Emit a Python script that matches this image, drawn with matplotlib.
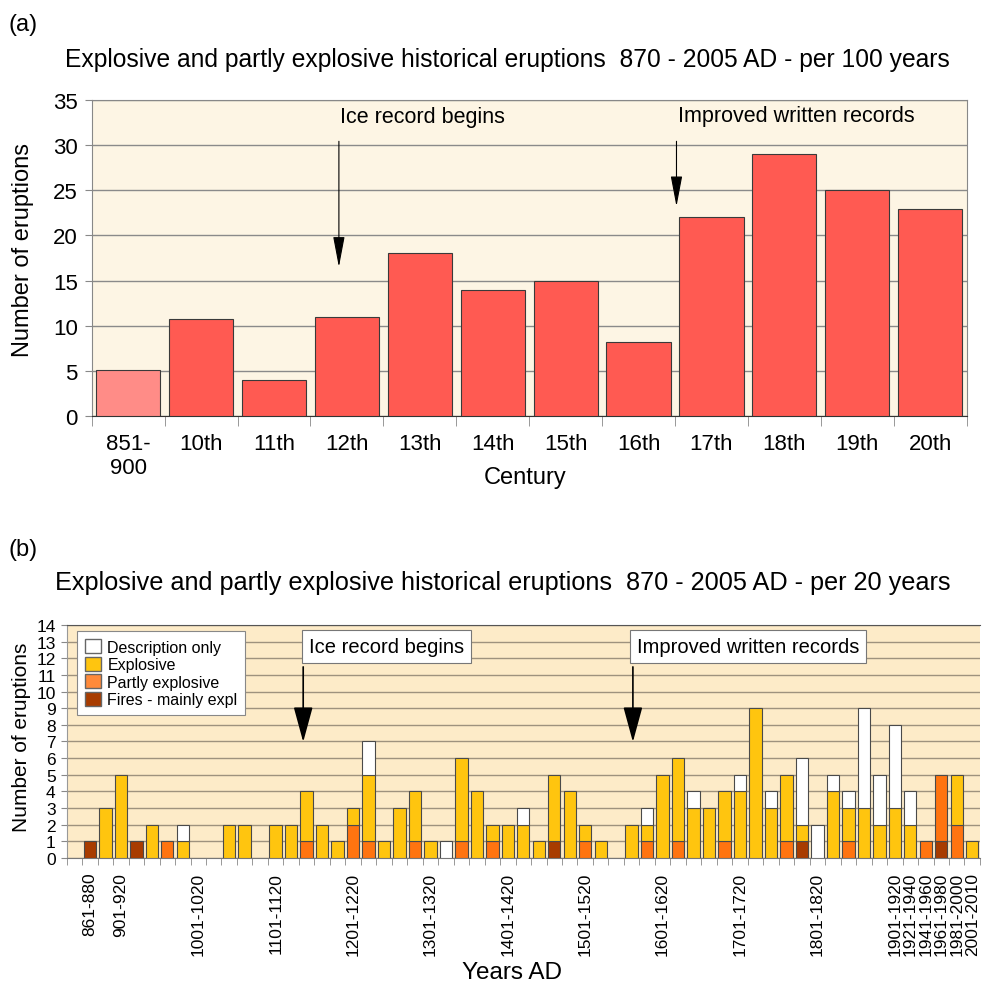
import numpy as np
import matplotlib
matplotlib.use('Agg')
from matplotlib import pyplot as plt
from matplotlib.patches import Patch

plt.rcParams['font.family'] = ['Liberation Sans', 'DejaVu Sans']

# ---- panel (a): per century ----
centuries = ['851-\n900', '10th', '11th', '12th', '13th', '14th', '15th',
             '16th', '17th', '18th', '19th', '20th']
per_century = [5.1, 10.8, 4, 11, 18.1, 14, 15, 8.2, 22, 29, 25, 22.9]

# ---- panel (b): per 20 years ----
bin_starts = list(range(861, 2001, 20))
bin_labels = ['%d-%d' % (y, y + 19) for y in bin_starts] + ['2001-2010']
shown_labels = ['861-880', '901-920', '1001-1020', '1101-1120', '1201-1220',
                '1301-1320', '1401-1420', '1501-1520', '1601-1620', '1701-1720',
                '1801-1820', '1901-1920', '1921-1940', '1941-1960', '1961-1980',
                '1981-2000', '2001-2010']

fires = [1, 0, 0, 1, 0, 0, 0, 0, 0, 0,
         0, 0, 0, 0, 0, 0, 0, 0, 0, 0,
         0, 0, 0, 0, 0, 0, 0, 0, 0, 0,
         1, 0, 0, 0, 0, 0, 0, 0, 0, 0,
         0, 0, 0, 0, 0, 0, 1, 0, 0, 0,
         0, 0, 0, 0, 0, 1, 0, 0]
partly = [0, 0, 0, 0, 0, 1, 0, 0, 0, 0,
          0, 0, 0, 0, 1, 0, 0, 2, 1, 0,
          0, 1, 0, 0, 1, 0, 1, 0, 0, 0,
          0, 0, 1, 0, 0, 0, 1, 0, 1, 0,
          0, 1, 0, 0, 0, 1, 0, 0, 0, 1,
          0, 0, 0, 0, 1, 4, 2, 0]
explosive = [0, 3, 5, 0, 2, 0, 1, 0, 0, 2,
             2, 0, 2, 2, 3, 2, 1, 1, 4, 1,
             3, 3, 1, 0, 5, 4, 1, 2, 2, 1,
             4, 4, 1, 1, 0, 2, 1, 5, 5, 3,
             3, 3, 4, 9, 3, 4, 1, 0, 4, 2,
             3, 2, 3, 2, 0, 0, 3, 1]
description = [0, 0, 0, 0, 0, 0, 1, 0, 0, 0,
               0, 0, 0, 0, 0, 0, 0, 0, 2, 0,
               0, 0, 0, 1, 0, 0, 0, 0, 1, 0,
               0, 0, 0, 0, 0, 0, 1, 0, 0, 1,
               0, 0, 1, 0, 1, 0, 4, 2, 1, 1,
               6, 3, 5, 2, 0, 0, 0, 0]

C_FIRE = '#A83C00'
C_PART = '#FF7410'
C_EXPL = '#FFC50F'
C_DESC = 'white'

fig = plt.figure(figsize=(9.82, 9.87), dpi=100)

# ================= (a) =================
ax1 = fig.add_axes([0.0934, 0.5772, 0.891, 0.3208])
ax1.set_facecolor('#FDF5E4')
xa = np.arange(len(centuries))
cols = ['#FF8C87'] + ['#FF5A52'] * (len(centuries) - 1)
ax1.bar(xa, per_century, 0.88, color=cols, edgecolor='#3a3a3a', lw=0.8, zorder=3)
ax1.set_xlim(-0.5, len(centuries) - 0.5)
ax1.set_ylim(0, 35)
ax1.set_yticks(range(0, 36, 5))
ax1.yaxis.grid(True, color='#8a8a8a', lw=1)
ax1.set_axisbelow(True)
ax1.set_xticks(xa)
ax1.set_xticklabels(centuries, fontsize=16)
ax1.set_xticks(np.arange(-0.5, len(centuries)), minor=True)
ax1.tick_params(axis='x', which='major', length=0, pad=12)
ax1.tick_params(axis='x', which='minor', length=7, color='#888888')
ax1.tick_params(axis='y', length=5, color='#888888', labelsize=16, pad=5)
for s in ['left', 'top', 'right']:
    ax1.spines[s].set_color('#888888')
ax1.spines['bottom'].set_color('#333333')

arr_a = dict(arrowstyle='-|>,head_length=1.9,head_width=0.36', mutation_scale=10,
             lw=0.8, color='black', shrinkA=0, shrinkB=0)
ax1.annotate('', xy=(2.89, 16.5), xytext=(2.89, 30.4), arrowprops=arr_a)
ax1.annotate('', xy=(7.52, 23.2), xytext=(7.52, 30.4), arrowprops=arr_a)
ax1.text(2.91, 33.1, 'Ice record begins', fontsize=15.5, va='center', ha='left')
ax1.text(7.54, 33.2, 'Improved written records', fontsize=15.5, va='center', ha='left')

fig.text(8 / 982, 1 - 25 / 987, '(a)', fontsize=17, va='center', ha='left')
fig.text(507 / 982, 1 - 60 / 987,
         'Explosive and partly explosive historical eruptions  870 - 2005 AD - per 100 years',
         fontsize=17.7, va='center', ha='center')
fig.text(23 / 982, 1 - 250 / 987, 'Number of eruptions', fontsize=17,
         rotation=90, va='center', ha='center')
fig.text(525 / 982, 1 - 478 / 987, 'Century', fontsize=17, va='center', ha='center')

# ================= (b) =================
ax2 = fig.add_axes([0.0679, 0.1297, 0.930, 0.2361])
ax2.set_facecolor('#FDEBC8')
xb = np.arange(1, len(bin_labels) + 1)
bottom = np.zeros(len(xb))
for vals, col in [(fires, C_FIRE), (partly, C_PART), (explosive, C_EXPL), (description, C_DESC)]:
    v = np.array(vals, dtype=float)
    m = v > 0
    ax2.bar(xb[m], v[m], 0.8, bottom=bottom[m], color=col, edgecolor='#4a4a4a',
            lw=0.8, zorder=3)
    bottom += v
ax2.set_xlim(-0.5, len(bin_labels) + 0.5)
ax2.set_ylim(0, 14)
ax2.set_yticks(range(0, 15))
ax2.yaxis.grid(True, color='#9E927E', lw=1)
ax2.set_axisbelow(True)
tick_pos = [bin_labels.index(s) + 1 for s in shown_labels]
ax2.set_xticks(tick_pos)
ax2.set_xticklabels(shown_labels, rotation=90, fontsize=12.5)
ax2.set_xticks(np.arange(-0.5, len(bin_labels) + 1), minor=True)
ax2.tick_params(axis='x', which='major', length=0, pad=10)
ax2.tick_params(axis='x', which='minor', length=5, color='#888888')
ax2.tick_params(axis='y', length=4, color='#888888', labelsize=12.5, pad=4)
ax2.spines['left'].set_color('#999999')
ax2.spines['top'].set_color('#555555')
ax2.spines['right'].set_visible(False)
ax2.spines['bottom'].set_color('#777777')

handles = [Patch(facecolor=C_DESC, edgecolor='#666666', label='Description only'),
           Patch(facecolor=C_EXPL, edgecolor='#666666', label='Explosive'),
           Patch(facecolor='#FF8A3A', edgecolor='#666666', label='Partly explosive'),
           Patch(facecolor=C_FIRE, edgecolor='#666666', label='Fires - mainly expl')]
leg = ax2.legend(handles=handles, loc='upper left', bbox_to_anchor=(0.0113, 0.974),
                 borderaxespad=0, fontsize=11.5, frameon=True, fancybox=False,
                 framealpha=1, edgecolor='#888888', handlelength=1.0, handleheight=1.0,
                 handletextpad=0.4, labelspacing=0.12, borderpad=0.5)
leg.get_frame().set_linewidth(0.8)

arr_b = dict(arrowstyle='-|>,head_length=2.2,head_width=0.6', mutation_scale=10,
             lw=1.2, color='black', shrinkA=0, shrinkB=0)
ax2.annotate('', xy=(14.78, 6.97), xytext=(14.78, 11.48), arrowprops=arr_b)
ax2.annotate('', xy=(36.08, 6.97), xytext=(36.08, 11.48), arrowprops=arr_b)
box = dict(boxstyle='square,pad=0.35', facecolor='white', edgecolor='#777777', lw=0.8)
ax2.text(20.16, 12.71, 'Ice record begins', fontsize=14.5, va='center', ha='center', bbox=box)
ax2.text(43.5, 12.71, 'Improved written records', fontsize=14.5, va='center', ha='center', bbox=box)

fig.text(8 / 982, 1 - 550 / 987, '(b)', fontsize=17, va='center', ha='left')
fig.text(503 / 982, 1 - 583 / 987,
         'Explosive and partly explosive historical eruptions  870 - 2005 AD - per 20 years',
         fontsize=18.2, va='center', ha='center')
fig.text(22 / 982, 1 - 737 / 987, 'Number of eruptions', fontsize=15,
         rotation=90, va='center', ha='center')
fig.text(512 / 982, 1 - 973 / 987, 'Years AD', fontsize=17.5, va='center', ha='center')

fig.savefig('out.png', dpi=100, facecolor='white')
